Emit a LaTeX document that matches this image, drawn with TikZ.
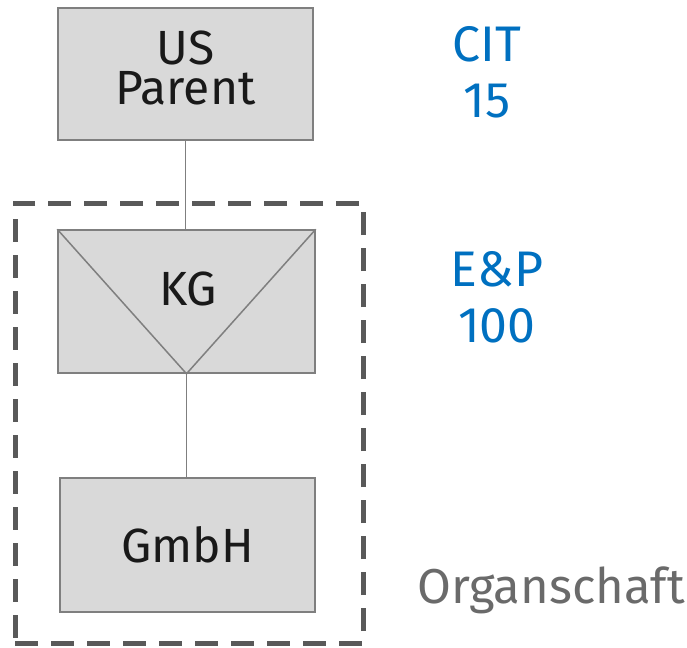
\documentclass[tikz,border=0pt]{standalone}
\usepackage{fontspec}
\setmainfont{Fira Sans}
\definecolor{boxfill}{HTML}{D9D9D9}
\definecolor{boxline}{HTML}{7F7F7F}
\definecolor{dashline}{HTML}{595959}
\definecolor{taxblue}{HTML}{0070C0}
\definecolor{notegray}{HTML}{6A6A6A}
\tikzset{
  entity/.style={draw=boxline, line width=1.5pt, fill=boxfill, inner sep=0pt,
    font=\fontsize{48}{39}\selectfont, text=black!90, align=center},
  link/.style={draw=boxline, line width=1.5pt},
  rate/.style={text=taxblue, font=\fontsize{50}{56}\selectfont, align=center}
}
\begin{document}
\begin{tikzpicture}[x=1pt, y=-1pt]
            \useasboundingbox (0,0) rectangle (687,647);
            % fiscal unity
            \node[draw=dashline, line width=5pt, dash pattern=on 23pt off 13pt,
                  minimum width=348pt, minimum height=440pt, inner sep=0pt] (organ) at (189,423) {};
            \node[entity, minimum width=255pt, minimum height=132pt] (parent) at (185.5,74) {};
            \node[font=\fontsize{48}{40}\selectfont, text=black!90, align=center] (parentlabel) at (185.5,68) {US\\Parent};
            \node[entity, minimum width=257pt, minimum height=143pt] (kg) at (186.5,301.5) {};
            \node[entity, minimum width=255pt, minimum height=134pt] (gmbh) at (187.5,545) {GmbH};
            % partnership triangle
            \draw[link] (kg.north west) -- (kg.south) -- (kg.north east);
            \node[font=\fontsize{48}{48}\selectfont, text=black!90] (kglabel) at (188,289) {KG};
            \draw[link] (parent.south) -- (kg.north -| parent.south);
            \draw[link] (kg.south) -- (gmbh.north -| kg.south);
            % rates
            \node[rate] (cit) at (487,72) {CIT\\15};
            \node[rate] (ep) at (497,297) {E\&P\\100};
            \node[text=notegray, font=\fontsize{49}{49}\selectfont] (note) at (551,590) {Organschaft};
        \end{tikzpicture}
\end{document}
